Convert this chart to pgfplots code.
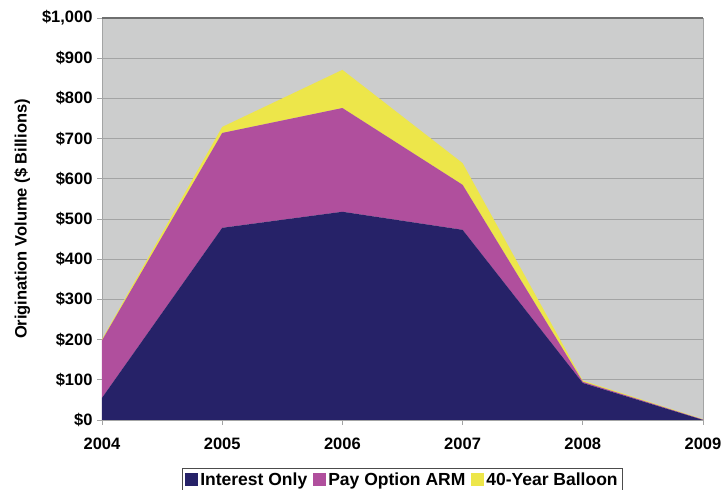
\documentclass[border=0pt]{standalone}
\usepackage{pgfplots}
\pgfplotsset{compat=1.18}
\usepackage{fontspec}
\setmainfont{Liberation Sans}

\definecolor{bggray}{HTML}{CCCDCD}
\definecolor{gridgray}{HTML}{A3A4A4}
\definecolor{framedark}{HTML}{6E6F6F}
\definecolor{ionavy}{HTML}{262268}
\definecolor{armpink}{HTML}{B04F9D}
\definecolor{balyellow}{HTML}{EDE64A}

\begin{document}
\begin{tikzpicture}
\begin{axis}[
  name=ax,
  scale only axis,
  width=601pt, height=402pt,
  xmin=2004, xmax=2009, ymin=0, ymax=1000,
  xtick={2004,2005,2006,2007,2008,2009},
  ytick={0,100,...,1000},
  xtick pos=bottom, ytick pos=left,
  tick align=outside, major tick length=5pt,
  tick style={gridgray, line width=0.8pt},
  axis line style={gridgray, line width=0.8pt},
  axis background/.style={fill=bggray},
  ymajorgrids,
  grid style={gridgray, line width=0.9pt},
  /pgf/number format/assume math mode=true,
  ticklabel style={font=\fontsize{16.5}{19}\selectfont\bfseries},
  xticklabel style={/pgf/number format/set thousands separator={}, yshift=-9pt},
  yticklabel={\$\pgfmathprintnumber[fixed, precision=0, 1000 sep={,}]{\tick}},
  yticklabel style={xshift=-1pt},
  ylabel={Origination Volume (\$ Billions)},
  ylabel style={font=\fontsize{16.5}{19}\selectfont\bfseries, yshift=5pt},
  stack plots=y,
  area style,
  axis on top=false,
  legend columns=-1,
  legend style={
    at={(0.5,-0.119)}, anchor=north,
    draw=black!70, line width=0.8pt,
    font=\fontsize{17.5}{20}\selectfont\bfseries,
    inner xsep=3pt, inner ysep=2.5pt,
    /tikz/every even column/.append style={column sep=4pt},
  },
  legend image code/.code={\fill[#1] (0pt,-6.5pt) rectangle (13pt,6.5pt);},
  after end axis/.code={
    \draw[framedark, line width=1.4pt] (rel axis cs:0,1) -- (rel axis cs:1,1);
  },
]
% Interest Only
\addplot[draw=none, fill=ionavy] coordinates {
  (2004,55) (2005,478) (2006,518) (2007,473) (2008,92) (2009,0)
} \closedcycle;
% Pay Option ARM
\addplot[draw=none, fill=armpink] coordinates {
  (2004,143) (2005,236) (2006,258) (2007,112) (2008,3) (2009,1)
} \closedcycle;
% 40-Year Balloon
\addplot[draw=none, fill=balyellow] coordinates {
  (2004,3) (2005,15) (2006,95) (2007,54) (2008,3) (2009,1)
} \closedcycle;
\legend{Interest Only, Pay Option ARM, 40-Year Balloon}
\end{axis}
\pgfresetboundingbox
\path[use as bounding box] ([shift={(-102pt,-70pt)}]ax.south west) rectangle ([shift={(18pt,18pt)}]ax.north east);
\end{tikzpicture}
\end{document}
